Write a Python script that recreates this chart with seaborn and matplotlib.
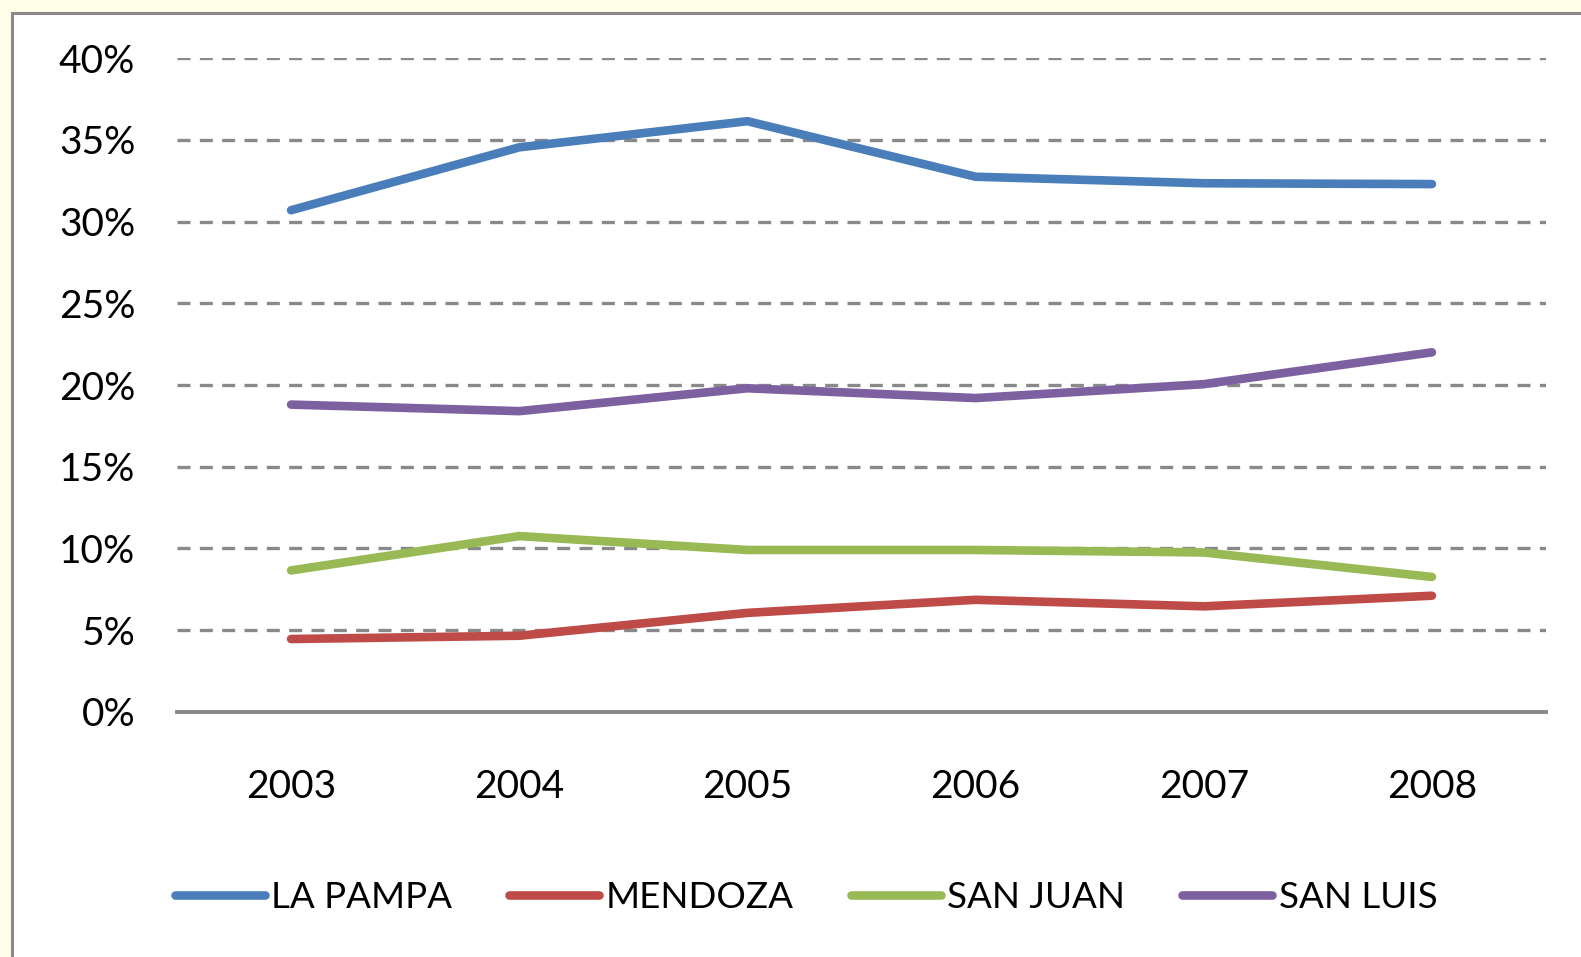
import numpy as np
import pandas as pd
import seaborn as sns
import matplotlib.pyplot as plt
from matplotlib.patches import Rectangle

years = [2003, 2004, 2005, 2006, 2007, 2008]
la_pampa = [30.7, 34.55, 36.15, 32.75, 32.35, 32.3]
mendoza = [4.45, 4.65, 6.05, 6.85, 6.45, 7.1]
san_juan = [8.65, 10.75, 9.9, 9.9, 9.75, 8.25]
san_luis = [18.8, 18.4, 19.8, 19.2, 20.05, 22.0]

provinces = ['LA PAMPA', 'MENDOZA', 'SAN JUAN', 'SAN LUIS']
colors = ['#4A7EBB', '#BE4B48', '#98B954', '#7D60A0']

df = pd.DataFrame({
    'year': years * 4,
    'value': la_pampa + mendoza + san_juan + san_luis,
    'province': np.repeat(provinces, len(years)),
})

sns.set_theme(style='white')
plt.rcParams['font.family'] = ['Lato', 'DejaVu Sans']

fig = plt.figure(figsize=(15.81, 9.57), dpi=100, facecolor='#FFFFE8')
fig.patches.append(Rectangle((11.5 / 1581, -0.1), 1.2, 1 - 12.5 / 957 + 0.1,
                             transform=fig.transFigure, facecolor='white',
                             edgecolor='#898989', linewidth=2.2, zorder=-1))

ax = fig.add_axes([177 / 1581, 1 - 711.7 / 957, (1546 - 177) / 1581, (711.7 - 58.3) / 957])
ax.set_facecolor('none')
ax.set_zorder(2)

sns.lineplot(data=df, x='year', y='value', hue='province', palette=colors,
             linewidth=6.2, ax=ax, legend=True,
             solid_capstyle='round', solid_joinstyle='round')

ax.set_xlim(2002.5, 2008.5)
ax.set_ylim(0, 40)
ax.set_yticks(range(0, 41, 5))
ax.set_yticklabels([f'{v}%' for v in range(0, 41, 5)])
ax.set_xticks(years)
ax.set_xticklabels([str(y) for y in years])
ax.set_xlabel('')
ax.set_ylabel('')

ax.yaxis.grid(True, color='#898989', linewidth=2.4, linestyle=(0, (3.9, 2.8)))
ax.set_axisbelow(True)
for s in ['top', 'right', 'left']:
    ax.spines[s].set_visible(False)
ax.spines['bottom'].set_color('#898989')
ax.spines['bottom'].set_linewidth(2.8)
ax.spines['bottom'].set_zorder(1)

ax.tick_params(axis='both', length=0, labelsize=28, labelcolor='black')
ax.tick_params(axis='y', pad=30)
ax.tick_params(axis='x', pad=41)

handles, labels = ax.get_legend_handles_labels()
ax.get_legend().remove()
leg = fig.legend(handles, labels, loc='center', bbox_to_anchor=(806 / 1581, 1 - 897 / 957),
                 ncol=4, frameon=False, fontsize=26.5, handlelength=2.45,
                 handletextpad=0.17, columnspacing=1.55, labelcolor='black')
for h in leg.get_lines():
    h.set_linewidth(6.2)
    h.set_solid_capstyle('round')

fig.savefig('out.png', dpi=100, facecolor=fig.get_facecolor())
